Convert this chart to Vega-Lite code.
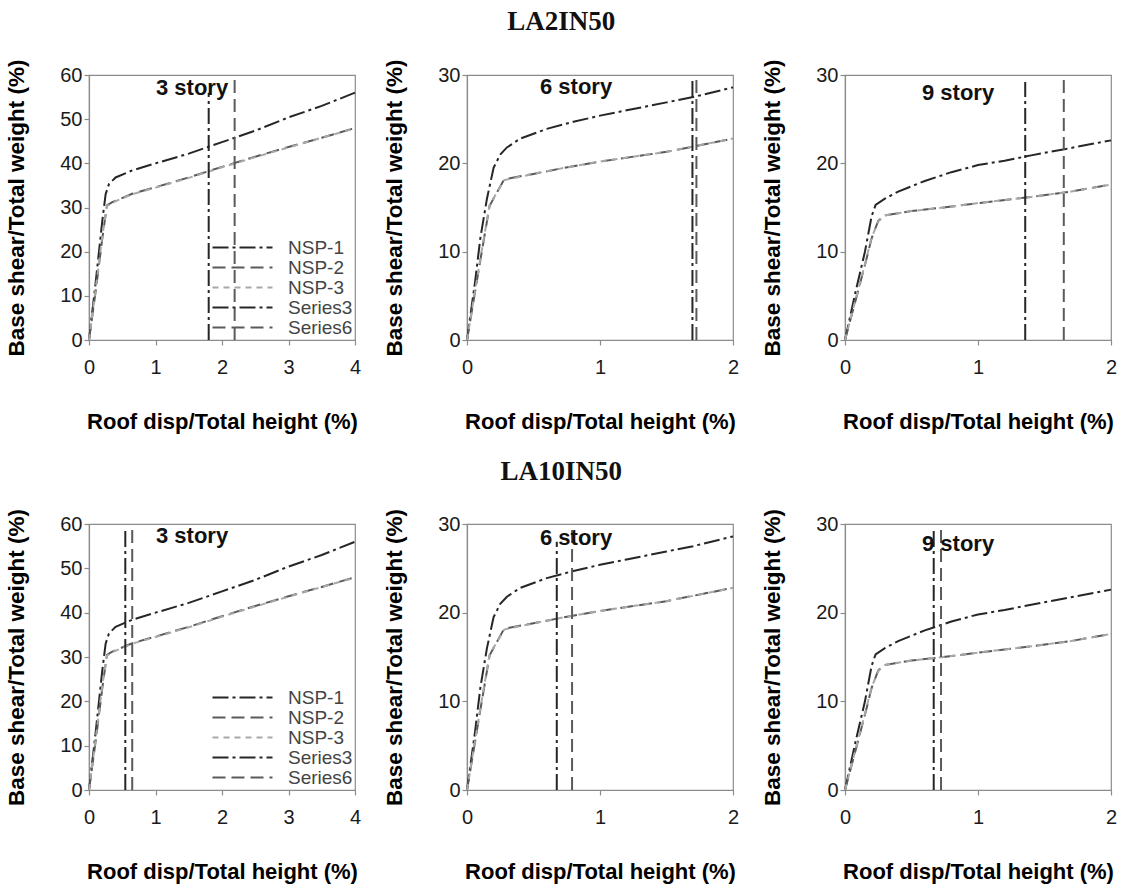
{
  "$schema": "https://vega.github.io/schema/vega-lite/v6.json",
  "background": "white",
  "padding": {"left": 5, "top": 8, "right": 5, "bottom": 5},
  "datasets": {
    "curves": [
      {"story": 3, "series": "NSP-1", "x": 0, "y": 0},
      {"story": 3, "series": "NSP-1", "x": 0.1, "y": 13},
      {"story": 3, "series": "NSP-1", "x": 0.2, "y": 27},
      {"story": 3, "series": "NSP-1", "x": 0.25, "y": 33},
      {"story": 3, "series": "NSP-1", "x": 0.3, "y": 35.3},
      {"story": 3, "series": "NSP-1", "x": 0.4, "y": 36.8},
      {"story": 3, "series": "NSP-1", "x": 0.65, "y": 38.4},
      {"story": 3, "series": "NSP-1", "x": 1, "y": 40},
      {"story": 3, "series": "NSP-1", "x": 1.5, "y": 42.2},
      {"story": 3, "series": "NSP-1", "x": 2, "y": 44.8},
      {"story": 3, "series": "NSP-1", "x": 2.5, "y": 47.4},
      {"story": 3, "series": "NSP-1", "x": 3, "y": 50.4},
      {"story": 3, "series": "NSP-1", "x": 3.5, "y": 53},
      {"story": 3, "series": "NSP-1", "x": 4, "y": 56},
      {"story": 3, "series": "NSP-2", "x": 0, "y": 0},
      {"story": 3, "series": "NSP-2", "x": 0.1, "y": 11},
      {"story": 3, "series": "NSP-2", "x": 0.2, "y": 23},
      {"story": 3, "series": "NSP-2", "x": 0.27, "y": 30.5},
      {"story": 3, "series": "NSP-2", "x": 0.35, "y": 31.2},
      {"story": 3, "series": "NSP-2", "x": 0.65, "y": 33.1},
      {"story": 3, "series": "NSP-2", "x": 1, "y": 34.6},
      {"story": 3, "series": "NSP-2", "x": 1.5, "y": 36.8},
      {"story": 3, "series": "NSP-2", "x": 2, "y": 39.2},
      {"story": 3, "series": "NSP-2", "x": 2.5, "y": 41.5},
      {"story": 3, "series": "NSP-2", "x": 3, "y": 43.7},
      {"story": 3, "series": "NSP-2", "x": 3.5, "y": 45.8},
      {"story": 3, "series": "NSP-2", "x": 4, "y": 48},
      {"story": 3, "series": "NSP-3", "x": 0, "y": 0},
      {"story": 3, "series": "NSP-3", "x": 0.1, "y": 11.5},
      {"story": 3, "series": "NSP-3", "x": 0.2, "y": 23.5},
      {"story": 3, "series": "NSP-3", "x": 0.27, "y": 30.3},
      {"story": 3, "series": "NSP-3", "x": 0.35, "y": 31.1},
      {"story": 3, "series": "NSP-3", "x": 0.65, "y": 33},
      {"story": 3, "series": "NSP-3", "x": 1, "y": 34.5},
      {"story": 3, "series": "NSP-3", "x": 1.5, "y": 36.7},
      {"story": 3, "series": "NSP-3", "x": 2, "y": 39.1},
      {"story": 3, "series": "NSP-3", "x": 2.5, "y": 41.4},
      {"story": 3, "series": "NSP-3", "x": 3, "y": 43.6},
      {"story": 3, "series": "NSP-3", "x": 3.5, "y": 45.8},
      {"story": 3, "series": "NSP-3", "x": 4, "y": 47.9},
      {"story": 6, "series": "NSP-1", "x": 0, "y": 0},
      {"story": 6, "series": "NSP-1", "x": 0.06, "y": 6.5},
      {"story": 6, "series": "NSP-1", "x": 0.1, "y": 11.5},
      {"story": 6, "series": "NSP-1", "x": 0.15, "y": 16},
      {"story": 6, "series": "NSP-1", "x": 0.2, "y": 19.5},
      {"story": 6, "series": "NSP-1", "x": 0.25, "y": 21},
      {"story": 6, "series": "NSP-1", "x": 0.3, "y": 21.8},
      {"story": 6, "series": "NSP-1", "x": 0.4, "y": 22.8},
      {"story": 6, "series": "NSP-1", "x": 0.6, "y": 23.9},
      {"story": 6, "series": "NSP-1", "x": 0.8, "y": 24.7},
      {"story": 6, "series": "NSP-1", "x": 1.0, "y": 25.4},
      {"story": 6, "series": "NSP-1", "x": 1.2, "y": 26},
      {"story": 6, "series": "NSP-1", "x": 1.5, "y": 26.9},
      {"story": 6, "series": "NSP-1", "x": 1.7, "y": 27.5},
      {"story": 6, "series": "NSP-1", "x": 2, "y": 28.6},
      {"story": 6, "series": "NSP-2", "x": 0, "y": 0},
      {"story": 6, "series": "NSP-2", "x": 0.1, "y": 9},
      {"story": 6, "series": "NSP-2", "x": 0.17, "y": 15.2},
      {"story": 6, "series": "NSP-2", "x": 0.28, "y": 18.2},
      {"story": 6, "series": "NSP-2", "x": 0.5, "y": 18.8},
      {"story": 6, "series": "NSP-2", "x": 0.7, "y": 19.4},
      {"story": 6, "series": "NSP-2", "x": 1.0, "y": 20.2},
      {"story": 6, "series": "NSP-2", "x": 1.5, "y": 21.3},
      {"story": 6, "series": "NSP-2", "x": 1.7, "y": 21.9},
      {"story": 6, "series": "NSP-2", "x": 2, "y": 22.8},
      {"story": 6, "series": "NSP-3", "x": 0, "y": 0},
      {"story": 6, "series": "NSP-3", "x": 0.1, "y": 9.2},
      {"story": 6, "series": "NSP-3", "x": 0.17, "y": 15.3},
      {"story": 6, "series": "NSP-3", "x": 0.28, "y": 18.1},
      {"story": 6, "series": "NSP-3", "x": 0.5, "y": 18.8},
      {"story": 6, "series": "NSP-3", "x": 0.7, "y": 19.4},
      {"story": 6, "series": "NSP-3", "x": 1.0, "y": 20.2},
      {"story": 6, "series": "NSP-3", "x": 1.5, "y": 21.3},
      {"story": 6, "series": "NSP-3", "x": 1.7, "y": 21.9},
      {"story": 6, "series": "NSP-3", "x": 2, "y": 22.8},
      {"story": 9, "series": "NSP-1", "x": 0, "y": 0},
      {"story": 9, "series": "NSP-1", "x": 0.08, "y": 5.5},
      {"story": 9, "series": "NSP-1", "x": 0.15, "y": 10},
      {"story": 9, "series": "NSP-1", "x": 0.2, "y": 14},
      {"story": 9, "series": "NSP-1", "x": 0.23, "y": 15.3},
      {"story": 9, "series": "NSP-1", "x": 0.3, "y": 16},
      {"story": 9, "series": "NSP-1", "x": 0.4, "y": 16.8},
      {"story": 9, "series": "NSP-1", "x": 0.6, "y": 18},
      {"story": 9, "series": "NSP-1", "x": 0.8, "y": 19},
      {"story": 9, "series": "NSP-1", "x": 1.0, "y": 19.8},
      {"story": 9, "series": "NSP-1", "x": 1.2, "y": 20.3},
      {"story": 9, "series": "NSP-1", "x": 1.4, "y": 20.9},
      {"story": 9, "series": "NSP-1", "x": 1.65, "y": 21.6},
      {"story": 9, "series": "NSP-1", "x": 2, "y": 22.6},
      {"story": 9, "series": "NSP-2", "x": 0, "y": 0},
      {"story": 9, "series": "NSP-2", "x": 0.08, "y": 4.5},
      {"story": 9, "series": "NSP-2", "x": 0.15, "y": 8.5},
      {"story": 9, "series": "NSP-2", "x": 0.2, "y": 11.5},
      {"story": 9, "series": "NSP-2", "x": 0.25, "y": 13.5},
      {"story": 9, "series": "NSP-2", "x": 0.3, "y": 14.1},
      {"story": 9, "series": "NSP-2", "x": 0.5, "y": 14.6},
      {"story": 9, "series": "NSP-2", "x": 0.8, "y": 15.1},
      {"story": 9, "series": "NSP-2", "x": 1.0, "y": 15.5},
      {"story": 9, "series": "NSP-2", "x": 1.4, "y": 16.2},
      {"story": 9, "series": "NSP-2", "x": 1.7, "y": 16.8},
      {"story": 9, "series": "NSP-2", "x": 2, "y": 17.6},
      {"story": 9, "series": "NSP-3", "x": 0, "y": 0},
      {"story": 9, "series": "NSP-3", "x": 0.08, "y": 4.6},
      {"story": 9, "series": "NSP-3", "x": 0.15, "y": 8.6},
      {"story": 9, "series": "NSP-3", "x": 0.2, "y": 11.6},
      {"story": 9, "series": "NSP-3", "x": 0.25, "y": 13.4},
      {"story": 9, "series": "NSP-3", "x": 0.3, "y": 14.1},
      {"story": 9, "series": "NSP-3", "x": 0.5, "y": 14.6},
      {"story": 9, "series": "NSP-3", "x": 0.8, "y": 15.1},
      {"story": 9, "series": "NSP-3", "x": 1.0, "y": 15.5},
      {"story": 9, "series": "NSP-3", "x": 1.4, "y": 16.2},
      {"story": 9, "series": "NSP-3", "x": 1.7, "y": 16.8},
      {"story": 9, "series": "NSP-3", "x": 2, "y": 17.6}
    ],
    "targets": [
      {"panel": "A3", "series": "Series3", "x": 1.8, "y": 0},
      {"panel": "A3", "series": "Series3", "x": 1.8, "y": 56},
      {"panel": "A3", "series": "Series6", "x": 2.19, "y": 0},
      {"panel": "A3", "series": "Series6", "x": 2.19, "y": 60},
      {"panel": "A6", "series": "Series3", "x": 1.695, "y": 0},
      {"panel": "A6", "series": "Series3", "x": 1.695, "y": 29.5},
      {"panel": "A6", "series": "Series6", "x": 1.725, "y": 0},
      {"panel": "A6", "series": "Series6", "x": 1.725, "y": 30},
      {"panel": "A9", "series": "Series3", "x": 1.355, "y": 0},
      {"panel": "A9", "series": "Series3", "x": 1.355, "y": 29.2},
      {"panel": "A9", "series": "Series6", "x": 1.645, "y": 0},
      {"panel": "A9", "series": "Series6", "x": 1.645, "y": 30},
      {"panel": "B3", "series": "Series3", "x": 0.546, "y": 0},
      {"panel": "B3", "series": "Series3", "x": 0.546, "y": 58.7},
      {"panel": "B3", "series": "Series6", "x": 0.65, "y": 0},
      {"panel": "B3", "series": "Series6", "x": 0.65, "y": 60},
      {"panel": "B6", "series": "Series3", "x": 0.675, "y": 0},
      {"panel": "B6", "series": "Series3", "x": 0.675, "y": 28},
      {"panel": "B6", "series": "Series6", "x": 0.79, "y": 0},
      {"panel": "B6", "series": "Series6", "x": 0.79, "y": 30},
      {"panel": "B9", "series": "Series3", "x": 0.667, "y": 0},
      {"panel": "B9", "series": "Series3", "x": 0.667, "y": 29.2},
      {"panel": "B9", "series": "Series6", "x": 0.722, "y": 0},
      {"panel": "B9", "series": "Series6", "x": 0.722, "y": 30}
    ],
    "labels": [
      {"panel": "A3", "label": "3 story"},
      {"panel": "A6", "label": "6 story"},
      {"panel": "A9", "label": "9 story"},
      {"panel": "B3", "label": "3 story"},
      {"panel": "B6", "label": "6 story"},
      {"panel": "B9", "label": "9 story"}
    ]
  },
  "vconcat": [
    {
      "title": {"text": "LA2IN50"},
      "spacing": 21,
      "hconcat": [
        {
          "width": 266, "height": 265,
          "layer": [
            {"data": {"name": "curves"}, "transform": [{"filter": "datum.story == 3"}], "mark": {"type": "line", "strokeWidth": 2},
             "encoding": {
               "x": {"field": "x", "type": "quantitative", "scale": {"domain": [0, 4], "nice": false}, "axis": {"values": [0, 1, 2, 3, 4], "format": ".0f", "title": "Roof disp/Total height (%)"}},
               "y": {"field": "y", "type": "quantitative", "scale": {"domain": [0, 60], "nice": false}, "axis": {"values": [0, 10, 20, 30, 40, 50, 60], "format": ".0f", "title": "Base shear/Total weight (%)"}},
               "color": {"field": "series", "type": "nominal", "scale": {"domain": ["NSP-1", "NSP-2", "NSP-3", "Series3", "Series6"], "range": ["#262626", "#5a5a5a", "#a8a8a8", "#262626", "#5a5a5a"]}, "legend": {"title": null}},
               "strokeDash": {"field": "series", "type": "nominal", "scale": {"domain": ["NSP-1", "NSP-2", "NSP-3", "Series3", "Series6"], "range": [[16, 4, 3, 4], [13, 6], [6, 5], [16, 4, 3, 4], [13, 6]]}, "legend": {"title": null}}
             }},
            {"data": {"name": "targets"}, "transform": [{"filter": "datum.panel == 'A3'"}], "mark": {"type": "line", "strokeWidth": 2},
             "encoding": {"x": {"field": "x", "type": "quantitative"}, "y": {"field": "y", "type": "quantitative"}, "color": {"field": "series", "type": "nominal"}, "strokeDash": {"field": "series", "type": "nominal"}}},
            {"data": {"name": "labels"}, "transform": [{"filter": "datum.panel == 'A3'"}], "mark": {"type": "text", "fontSize": 22, "fontWeight": "bold", "color": "#111"},
             "encoding": {"x": {"datum": 1.55, "type": "quantitative"}, "y": {"datum": 57, "type": "quantitative"}, "text": {"field": "label"}}}
          ]
        },
        {
          "width": 266, "height": 265,
          "layer": [
            {"data": {"name": "curves"}, "transform": [{"filter": "datum.story == 6"}], "mark": {"type": "line", "strokeWidth": 2},
             "encoding": {
               "x": {"field": "x", "type": "quantitative", "scale": {"domain": [0, 2], "nice": false}, "axis": {"values": [0, 1, 2], "format": ".0f", "title": "Roof disp/Total height (%)"}},
               "y": {"field": "y", "type": "quantitative", "scale": {"domain": [0, 30], "nice": false}, "axis": {"values": [0, 10, 20, 30], "format": ".0f", "title": "Base shear/Total weight (%)"}},
               "color": {"field": "series", "type": "nominal", "scale": {"domain": ["NSP-1", "NSP-2", "NSP-3", "Series3", "Series6"], "range": ["#262626", "#5a5a5a", "#a8a8a8", "#262626", "#5a5a5a"]}, "legend": null},
               "strokeDash": {"field": "series", "type": "nominal", "scale": {"domain": ["NSP-1", "NSP-2", "NSP-3", "Series3", "Series6"], "range": [[16, 4, 3, 4], [13, 6], [6, 5], [16, 4, 3, 4], [13, 6]]}, "legend": null}
             }},
            {"data": {"name": "targets"}, "transform": [{"filter": "datum.panel == 'A6'"}], "mark": {"type": "line", "strokeWidth": 2},
             "encoding": {"x": {"field": "x", "type": "quantitative"}, "y": {"field": "y", "type": "quantitative"}, "color": {"field": "series", "type": "nominal", "legend": null}, "strokeDash": {"field": "series", "type": "nominal", "legend": null}}},
            {"data": {"name": "labels"}, "transform": [{"filter": "datum.panel == 'A6'"}], "mark": {"type": "text", "fontSize": 22, "fontWeight": "bold", "color": "#111"},
             "encoding": {"x": {"datum": 0.82, "type": "quantitative"}, "y": {"datum": 28.6, "type": "quantitative"}, "text": {"field": "label"}}}
          ]
        },
        {
          "width": 266, "height": 265,
          "layer": [
            {"data": {"name": "curves"}, "transform": [{"filter": "datum.story == 9"}], "mark": {"type": "line", "strokeWidth": 2},
             "encoding": {
               "x": {"field": "x", "type": "quantitative", "scale": {"domain": [0, 2], "nice": false}, "axis": {"values": [0, 1, 2], "format": ".0f", "title": "Roof disp/Total height (%)"}},
               "y": {"field": "y", "type": "quantitative", "scale": {"domain": [0, 30], "nice": false}, "axis": {"values": [0, 10, 20, 30], "format": ".0f", "title": "Base shear/Total weight (%)"}},
               "color": {"field": "series", "type": "nominal", "scale": {"domain": ["NSP-1", "NSP-2", "NSP-3", "Series3", "Series6"], "range": ["#262626", "#5a5a5a", "#a8a8a8", "#262626", "#5a5a5a"]}, "legend": null},
               "strokeDash": {"field": "series", "type": "nominal", "scale": {"domain": ["NSP-1", "NSP-2", "NSP-3", "Series3", "Series6"], "range": [[16, 4, 3, 4], [13, 6], [6, 5], [16, 4, 3, 4], [13, 6]]}, "legend": null}
             }},
            {"data": {"name": "targets"}, "transform": [{"filter": "datum.panel == 'A9'"}], "mark": {"type": "line", "strokeWidth": 2},
             "encoding": {"x": {"field": "x", "type": "quantitative"}, "y": {"field": "y", "type": "quantitative"}, "color": {"field": "series", "type": "nominal", "legend": null}, "strokeDash": {"field": "series", "type": "nominal", "legend": null}}},
            {"data": {"name": "labels"}, "transform": [{"filter": "datum.panel == 'A9'"}], "mark": {"type": "text", "fontSize": 22, "fontWeight": "bold", "color": "#111"},
             "encoding": {"x": {"datum": 0.85, "type": "quantitative"}, "y": {"datum": 28, "type": "quantitative"}, "text": {"field": "label"}}}
          ]
        }
      ],
      "resolve": {"scale": {"color": "independent", "strokeDash": "independent"}, "legend": {"color": "independent", "strokeDash": "independent"}}
    },
    {
      "title": {"text": "LA10IN50"},
      "spacing": 21,
      "hconcat": [
        {
          "width": 266, "height": 266,
          "layer": [
            {"data": {"name": "curves"}, "transform": [{"filter": "datum.story == 3"}], "mark": {"type": "line", "strokeWidth": 2},
             "encoding": {
               "x": {"field": "x", "type": "quantitative", "scale": {"domain": [0, 4], "nice": false}, "axis": {"values": [0, 1, 2, 3, 4], "format": ".0f", "title": "Roof disp/Total height (%)"}},
               "y": {"field": "y", "type": "quantitative", "scale": {"domain": [0, 60], "nice": false}, "axis": {"values": [0, 10, 20, 30, 40, 50, 60], "format": ".0f", "title": "Base shear/Total weight (%)"}},
               "color": {"field": "series", "type": "nominal", "scale": {"domain": ["NSP-1", "NSP-2", "NSP-3", "Series3", "Series6"], "range": ["#262626", "#5a5a5a", "#a8a8a8", "#262626", "#5a5a5a"]}, "legend": {"title": null}},
               "strokeDash": {"field": "series", "type": "nominal", "scale": {"domain": ["NSP-1", "NSP-2", "NSP-3", "Series3", "Series6"], "range": [[16, 4, 3, 4], [13, 6], [6, 5], [16, 4, 3, 4], [13, 6]]}, "legend": {"title": null}}
             }},
            {"data": {"name": "targets"}, "transform": [{"filter": "datum.panel == 'B3'"}], "mark": {"type": "line", "strokeWidth": 2},
             "encoding": {"x": {"field": "x", "type": "quantitative"}, "y": {"field": "y", "type": "quantitative"}, "color": {"field": "series", "type": "nominal"}, "strokeDash": {"field": "series", "type": "nominal"}}},
            {"data": {"name": "labels"}, "transform": [{"filter": "datum.panel == 'B3'"}], "mark": {"type": "text", "fontSize": 22, "fontWeight": "bold", "color": "#111"},
             "encoding": {"x": {"datum": 1.55, "type": "quantitative"}, "y": {"datum": 57.3, "type": "quantitative"}, "text": {"field": "label"}}}
          ]
        },
        {
          "width": 266, "height": 266,
          "layer": [
            {"data": {"name": "curves"}, "transform": [{"filter": "datum.story == 6"}], "mark": {"type": "line", "strokeWidth": 2},
             "encoding": {
               "x": {"field": "x", "type": "quantitative", "scale": {"domain": [0, 2], "nice": false}, "axis": {"values": [0, 1, 2], "format": ".0f", "title": "Roof disp/Total height (%)"}},
               "y": {"field": "y", "type": "quantitative", "scale": {"domain": [0, 30], "nice": false}, "axis": {"values": [0, 10, 20, 30], "format": ".0f", "title": "Base shear/Total weight (%)"}},
               "color": {"field": "series", "type": "nominal", "scale": {"domain": ["NSP-1", "NSP-2", "NSP-3", "Series3", "Series6"], "range": ["#262626", "#5a5a5a", "#a8a8a8", "#262626", "#5a5a5a"]}, "legend": null},
               "strokeDash": {"field": "series", "type": "nominal", "scale": {"domain": ["NSP-1", "NSP-2", "NSP-3", "Series3", "Series6"], "range": [[16, 4, 3, 4], [13, 6], [6, 5], [16, 4, 3, 4], [13, 6]]}, "legend": null}
             }},
            {"data": {"name": "targets"}, "transform": [{"filter": "datum.panel == 'B6'"}], "mark": {"type": "line", "strokeWidth": 2},
             "encoding": {"x": {"field": "x", "type": "quantitative"}, "y": {"field": "y", "type": "quantitative"}, "color": {"field": "series", "type": "nominal", "legend": null}, "strokeDash": {"field": "series", "type": "nominal", "legend": null}}},
            {"data": {"name": "labels"}, "transform": [{"filter": "datum.panel == 'B6'"}], "mark": {"type": "text", "fontSize": 22, "fontWeight": "bold", "color": "#111"},
             "encoding": {"x": {"datum": 0.82, "type": "quantitative"}, "y": {"datum": 28.4, "type": "quantitative"}, "text": {"field": "label"}}}
          ]
        },
        {
          "width": 266, "height": 266,
          "layer": [
            {"data": {"name": "curves"}, "transform": [{"filter": "datum.story == 9"}], "mark": {"type": "line", "strokeWidth": 2},
             "encoding": {
               "x": {"field": "x", "type": "quantitative", "scale": {"domain": [0, 2], "nice": false}, "axis": {"values": [0, 1, 2], "format": ".0f", "title": "Roof disp/Total height (%)"}},
               "y": {"field": "y", "type": "quantitative", "scale": {"domain": [0, 30], "nice": false}, "axis": {"values": [0, 10, 20, 30], "format": ".0f", "title": "Base shear/Total weight (%)"}},
               "color": {"field": "series", "type": "nominal", "scale": {"domain": ["NSP-1", "NSP-2", "NSP-3", "Series3", "Series6"], "range": ["#262626", "#5a5a5a", "#a8a8a8", "#262626", "#5a5a5a"]}, "legend": null},
               "strokeDash": {"field": "series", "type": "nominal", "scale": {"domain": ["NSP-1", "NSP-2", "NSP-3", "Series3", "Series6"], "range": [[16, 4, 3, 4], [13, 6], [6, 5], [16, 4, 3, 4], [13, 6]]}, "legend": null}
             }},
            {"data": {"name": "targets"}, "transform": [{"filter": "datum.panel == 'B9'"}], "mark": {"type": "line", "strokeWidth": 2},
             "encoding": {"x": {"field": "x", "type": "quantitative"}, "y": {"field": "y", "type": "quantitative"}, "color": {"field": "series", "type": "nominal", "legend": null}, "strokeDash": {"field": "series", "type": "nominal", "legend": null}}},
            {"data": {"name": "labels"}, "transform": [{"filter": "datum.panel == 'B9'"}], "mark": {"type": "text", "fontSize": 22, "fontWeight": "bold", "color": "#111"},
             "encoding": {"x": {"datum": 0.85, "type": "quantitative"}, "y": {"datum": 27.7, "type": "quantitative"}, "text": {"field": "label"}}}
          ]
        }
      ],
      "resolve": {"scale": {"color": "independent", "strokeDash": "independent"}, "legend": {"color": "independent", "strokeDash": "independent"}}
    }
  ],
  "spacing": 24,
  "resolve": {"scale": {"color": "independent", "strokeDash": "independent"}, "legend": {"color": "independent", "strokeDash": "independent"}},
  "config": {
    "font": "Liberation Sans",
    "view": {"stroke": "#8c8c8c", "strokeWidth": 1.2},
    "title": {"font": "Liberation Serif", "fontSize": 27, "fontWeight": "bold", "color": "#111", "anchor": "middle", "offset": 22},
    "axis": {
      "grid": false,
      "labelFont": "Liberation Sans",
      "labelFontSize": 20,
      "labelColor": "#1a1a1a",
      "labelOverlap": false,
      "labelFlush": false,
      "domainColor": "#8c8c8c",
      "domainWidth": 1.2,
      "tickColor": "#8c8c8c",
      "tickWidth": 1.2,
      "tickSize": 5,
      "titleFont": "Liberation Sans",
      "titleFontWeight": "bold",
      "titleColor": "#000"
    },
    "axisX": {"labelPadding": 12, "titlePadding": 34, "titleFontSize": 22},
    "axisY": {"labelPadding": 2, "titlePadding": 31, "titleFontSize": 22.5},
    "legend": {
      "orient": "bottom-right",
      "offset": 2,
      "padding": 0,
      "symbolType": "M-5,0H5",
      "symbolSize": 144,
      "symbolStrokeWidth": 2,
      "labelFont": "Liberation Sans",
      "labelFontSize": 19,
      "labelColor": "#444",
      "labelOffset": 36,
      "rowPadding": 0
    }
  }
}
